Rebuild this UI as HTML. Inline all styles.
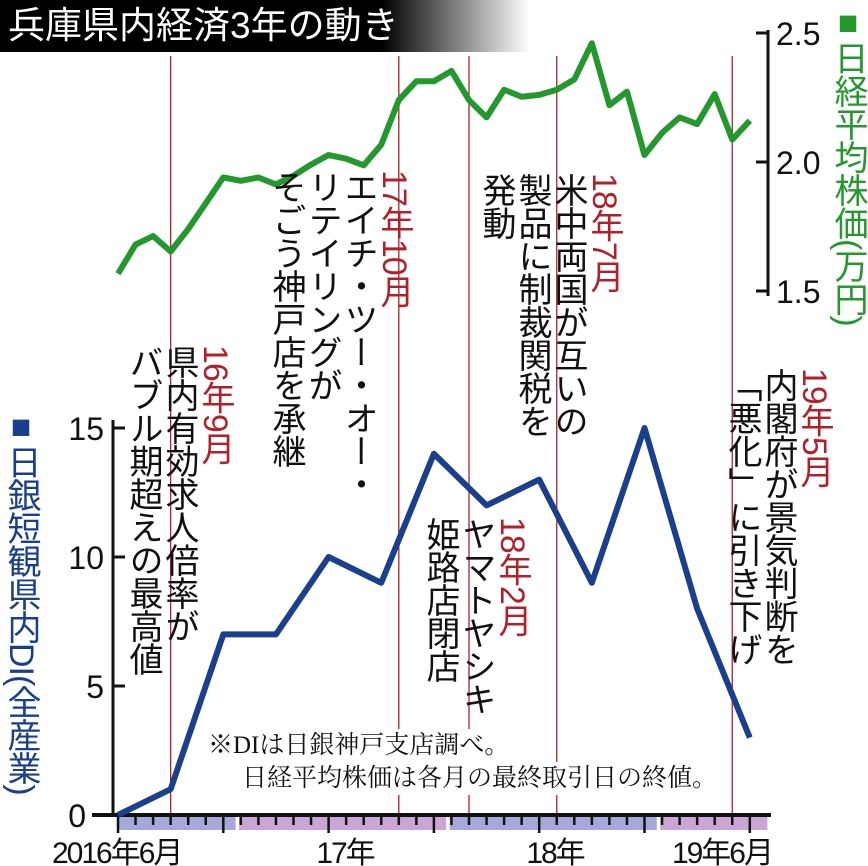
<!DOCTYPE html>
<html><head><meta charset="utf-8"><style>
html,body{margin:0;padding:0;background:#fff;}
#c{position:relative;width:868px;height:866px;overflow:hidden;font-family:"Liberation Sans","Noto Sans CJK JP",sans-serif;}
.v{position:absolute;writing-mode:vertical-rl;font-size:34px;line-height:36px;width:36px;color:#111;white-space:nowrap;letter-spacing:-1px;}
.r{color:#b3202a;}
</style></head><body>
<div id="c">
<div style="position:absolute;left:0;top:0;width:530px;height:52px;background:linear-gradient(90deg,#000 0,#000 72%,#fff 100%);"></div>
<div style="position:absolute;left:8px;top:4px;font-size:37px;color:#fff;line-height:44px;">兵庫県内経済3年の動き</div>
<svg id="s" width="868" height="866" style="position:absolute;left:0;top:0"></svg>
<div class="v r" style="left:197px;top:345px;">16年9月</div>
<div class="v" style="left:161px;top:345px;">県内有効求人倍率が</div>
<div class="v" style="left:125px;top:345px;">バブル期超えの最高値</div>
<div class="v r" style="left:376px;top:170px;">17年10月</div>
<div class="v" style="left:340px;top:170px;">エイチ・ツー・オー・</div>
<div class="v" style="left:304px;top:170px;">リテイリングが</div>
<div class="v" style="left:268px;top:170px;">そごう神戸店を承継</div>
<div class="v r" style="left:494px;top:517px;">18年2月</div>
<div class="v" style="left:458px;top:517px;">ヤマトヤシキ</div>
<div class="v" style="left:422px;top:517px;">姫路店閉店</div>
<div class="v r" style="left:586px;top:173px;">18年7月</div>
<div class="v" style="left:550px;top:173px;">米中両国が互いの</div>
<div class="v" style="left:514px;top:173px;">製品に制裁関税を</div>
<div class="v" style="left:478px;top:173px;">発動</div>
<div class="v r" style="left:796px;top:368px;">19年5月</div>
<div class="v" style="left:760px;top:368px;">内閣府が景気判断を</div>
<div class="v" style="left:724px;top:368px;">「悪化」に引き下げ</div>
<div class="v" style="left:830px;top:4px;color:#23982c;font-size:34px;">■日経平均株価(万円)</div>
<div class="v" style="left:4px;top:408px;color:#1a3f8c;font-size:34px;line-height:38px;">■日銀短観県内DI(全産業)</div>
<div style="position:absolute;left:208px;top:729px;font-family:'Liberation Serif','Noto Serif CJK SC',serif;font-size:25px;line-height:33px;color:#111;">
<div style="background:#fff;display:inline-block;">※DIは日銀神戸支店調べ。</div><br>
<div style="background:#fff;display:inline-block;margin-left:34px;">日経平均株価は各月の最終取引日の終値。</div></div>
</div>
<script>
const months=37;
const nikkei=[1.567,1.68,1.713,1.653,1.74,1.84,1.94,1.927,1.94,1.913,1.947,1.99,2.027,2.013,1.987,2.067,2.24,2.313,2.313,2.353,2.24,2.173,2.28,2.253,2.26,2.28,2.32,2.46,2.22,2.273,2.027,2.113,2.173,2.147,2.263,2.087,2.16];
const diMonths=[0,3,6,9,12,15,18,21,24,27,30,33,36];
const diValues=[0,1,7,7,10,9,14,12,13,9,15,8,3];
const diTicks=[0,5,10,15];
const nkTicks=[1.5,2.0,2.5];
const eventMonths=[3,16,20,25,35];
const yearBands=[["",0,6.7],["17年",6.9,18.7],["18年",18.9,30.7],["19年6月",30.9,37]];
const s=document.getElementById('s');
const NS='http://www.w3.org/2000/svg';
const X=m=>118+m*17.55;
const YD=v=>815-v*25.8;
const YN=v=>291-(v-1.5)*258;
function mk(t,a){const e=document.createElementNS(NS,t);for(const k in a)e.setAttribute(k,a[k]);s.appendChild(e);return e;}
eventMonths.forEach(m=>{const l=mk('line',{x1:X(m),x2:X(m),y1:56,y2:815,stroke:'#b3202a','stroke-width':1.3});

});
let a=mk('line',{x1:113,x2:113,y1:420,y2:817,stroke:'#111','stroke-width':3});


diTicks.forEach(v=>{mk('line',{x1:113,x2:125,y1:YD(v),y2:YD(v),stroke:'#111','stroke-width':3});
const t=mk('text',{x:v===0?86:104,y:YD(v)+12,'text-anchor':'end','font-size':32,fill:'#111','font-family':'Liberation Sans'});t.textContent=v;

});
a=mk('line',{x1:768,x2:768,y1:30,y2:296,stroke:'#111','stroke-width':3});


nkTicks.forEach(v=>{mk('line',{x1:756,x2:768,y1:YN(v),y2:YN(v),stroke:'#111','stroke-width':3});
const t=mk('text',{x:776,y:YN(v)+12,'font-size':32,fill:'#111','font-family':'Liberation Sans'});t.textContent=v.toFixed(1);

});
yearBands.forEach((b,i)=>{const r=mk('rect',{x:X(b[1]),y:816,width:X(b[2])-X(b[1]),height:14,fill:i%2?'#c9a6d6':'#a5a8d8'});

});
a=mk('line',{x1:92,x2:771,y1:815,y2:815,stroke:'#111','stroke-width':4});


for(let m=0;m<months;m++){mk('line',{x1:X(m),x2:X(m),y1:815,y2:m%6==0?833:825,stroke:'#111','stroke-width':2.5});}
const xl=[["2016年6月",52,'start'],["17年",345,'middle'],["18年",555,'middle'],["19年6月",772,'end']];
xl.forEach(d=>{const t=mk('text',{x:d[1],y:863,'text-anchor':d[2],'font-size':30,fill:'#111','font-family':'Liberation Sans, Noto Sans CJK JP, sans-serif','letter-spacing':'-2'});t.textContent=d[0];

});
let p=mk('polyline',{points:nikkei.map((v,i)=>X(i)+','+YN(v)).join(' '),fill:'none',stroke:'#23982c','stroke-width':6,'stroke-linejoin':'round'});


p=mk('polyline',{points:diValues.map((v,i)=>X(diMonths[i])+','+YD(v)).join(' '),fill:'none',stroke:'#1a3f8c','stroke-width':6,'stroke-linejoin':'round'});


</script>
</body></html>
